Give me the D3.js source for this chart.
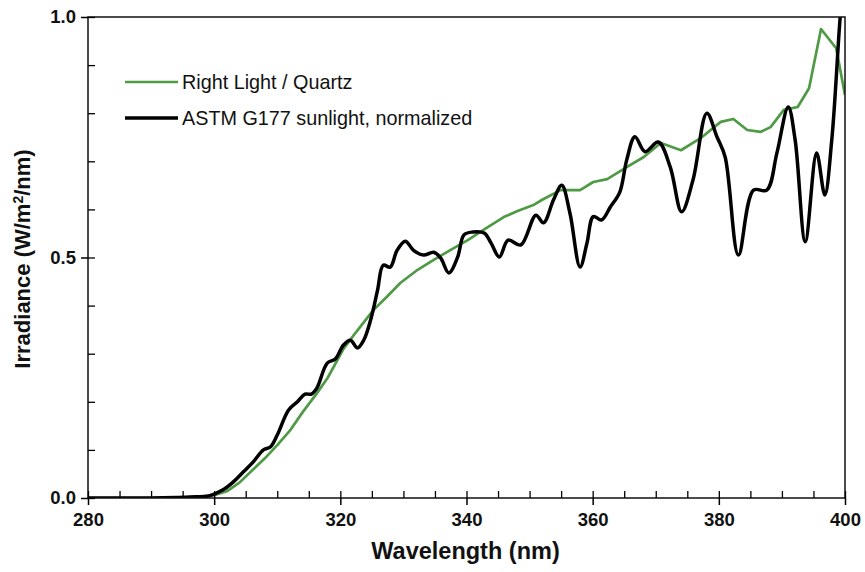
<!DOCTYPE html>
<html lang="en">
<head>
    <meta charset="UTF-8">
    <title>Irradiance</title>
    <style>
        body { margin: 0; background: #fff; }
        text { font-family: "Liberation Sans", Arial, sans-serif; }
        .tick text { font-size: 18.5px; font-weight: bold; fill: #111; }
        .label { font-size: 23.5px; font-weight: bold; fill: #111; }
        .ylabel { font-size: 22px; font-weight: bold; fill: #111; }
        .legend { font-size: 19.8px; fill: #111; }
    </style>
    <script src="https://d3js.org/d3.v7.min.js"></script>
</head>
<body>
<div id="container"></div>
<script>
    // Right Light / Quartz (green)
    var quartzWl = [280, 290, 295, 298, 300, 302, 304, 306, 308, 310, 312, 314, 316.3, 318, 320.5, 322.5, 325.2, 327.5,
        329.5, 332, 334.8, 337.5, 340.2, 343, 345.9, 348, 350.6, 352, 354.9, 358, 360.1, 362.3, 365.4, 368.1, 370.8,
        374, 377.1, 380.3, 382.3, 384.5, 386.6, 388.2, 390.3, 392.5, 394.3, 396.2, 398.6, 400];
    var quartzVal = [0, 0, 0.001, 0.003, 0.006, 0.014, 0.032, 0.057, 0.082, 0.11, 0.14, 0.178, 0.218, 0.25, 0.31, 0.345, 0.39, 0.42,
        0.447, 0.472, 0.495, 0.516, 0.536, 0.56, 0.584, 0.596, 0.609, 0.62, 0.64, 0.64, 0.657, 0.663, 0.688, 0.709, 0.738,
        0.723, 0.748, 0.782, 0.788, 0.765, 0.761, 0.771, 0.807, 0.813, 0.852, 0.975, 0.935, 0.838];

    // ASTM G177 sunlight, normalized (black)
    var astmWl = [280, 285, 290, 294, 296.2, 299.3, 301.4, 303, 304.6, 306.2, 307.8, 308.9, 310, 311.8, 313.2, 314.4, 315.4,
        316.3, 317.9, 319.2, 320.5, 321.6, 322.7, 323.7, 324.8, 325.9, 326.8, 327.9, 329, 330.3, 331.6, 333.2, 334.8,
        335.9, 337.2, 338.6, 339.6, 341, 342.8, 343.9, 345.2, 346.6, 348.6, 351, 352.2, 353.8, 355.1, 356.4, 358,
        359.1, 360.1, 361.4, 362.8, 364.3, 365.4, 366.7, 368.3, 370.4, 372.3, 374.1, 375.9, 378.1, 379.7, 381, 383.1,
        385.5, 387.6, 389.2, 391, 392.1, 393.7, 395.5, 396.8, 397.9, 399.2, 400];
    var astmVal = [0, 0, 0, 0.001, 0.002, 0.005, 0.017, 0.033, 0.054, 0.075, 0.1, 0.106, 0.131, 0.183, 0.2, 0.216, 0.216,
        0.229, 0.28, 0.289, 0.318, 0.328, 0.312, 0.328, 0.37, 0.432, 0.484, 0.48, 0.515, 0.534, 0.515, 0.505, 0.511,
        0.499, 0.468, 0.501, 0.547, 0.553, 0.551, 0.53, 0.501, 0.536, 0.526, 0.588, 0.572, 0.62, 0.65, 0.592, 0.48,
        0.53, 0.585, 0.578, 0.605, 0.636, 0.703, 0.751, 0.72, 0.74, 0.688, 0.595, 0.661, 0.8, 0.751, 0.709, 0.505,
        0.64, 0.64, 0.717, 0.813, 0.744, 0.533, 0.717, 0.63, 0.744, 0.994, 1.12];

    var xMajor = [280, 300, 320, 340, 360, 380, 400];
    var yMajor = [0, 0.5, 1.0];

    var width = 865, height = 572;
    var margin = {left: 88, right: 20, top: 17, bottom: 74};
    var green = "#4f9a45";

    var svg = d3.select("#container").append("svg")
        .attr("width", width)
        .attr("height", height);

    var x = d3.scaleLinear().domain([280, 400]).range([margin.left, width - margin.right]);
    var y = d3.scaleLinear().domain([0, 1]).range([height - margin.bottom, margin.top]);

    var quartz = quartzWl.map(function(w, i){ return {w: w, v: quartzVal[i]}; });
    var astm = astmWl.map(function(w, i){ return {w: w, v: astmVal[i]}; });

    svg.append("clipPath").attr("id", "clip")
        .append("rect")
        .attr("x", margin.left).attr("y", margin.top)
        .attr("width", width - margin.left - margin.right)
        .attr("height", height - margin.top - margin.bottom);

    var line = d3.line()
        .x(function(d){ return x(d.w); })
        .y(function(d){ return y(d.v); });

    svg.append("path")
        .datum(quartz)
        .attr("clip-path", "url(#clip)")
        .attr("d", line.curve(d3.curveLinear))
        .style("fill", "none")
        .style("stroke", green)
        .style("stroke-width", 2.7)
        .style("stroke-linejoin", "round");

    svg.append("path")
        .datum(astm)
        .attr("clip-path", "url(#clip)")
        .attr("d", line.curve(d3.curveCatmullRom.alpha(0.5)))
        .style("fill", "none")
        .style("stroke", "#000")
        .style("stroke-width", 3.5)
        .style("stroke-linejoin", "round");

    // frame
    svg.append("rect")
        .attr("x", margin.left).attr("y", margin.top)
        .attr("width", width - margin.left - margin.right)
        .attr("height", height - margin.top - margin.bottom)
        .style("fill", "none")
        .style("stroke", "#111")
        .style("stroke-width", 1.5);

    // x axis: labelled major ticks out, all ticks in
    var xBase = height - margin.bottom;
    svg.append("g")
        .attr("transform", "translate(0," + xBase + ")")
        .call(d3.axisBottom(x).tickValues(xMajor).tickSize(7).tickPadding(8).tickFormat(d3.format("d")))
        .call(function(g){ g.select(".domain").remove(); g.selectAll("line").style("stroke-width", 1.5); });
    svg.append("g")
        .attr("transform", "translate(0," + xBase + ")")
        .call(d3.axisBottom(x).tickValues(d3.range(280, 401, 5)).tickSize(-7).tickFormat(""))
        .call(function(g){ g.select(".domain").remove(); g.selectAll("line").style("stroke-width", 1.3); });

    // y axis
    svg.append("g")
        .attr("transform", "translate(" + margin.left + ",0)")
        .call(d3.axisLeft(y).tickValues(yMajor).tickSize(7).tickPadding(5).tickFormat(d3.format(".1f")))
        .call(function(g){ g.select(".domain").remove(); g.selectAll("line").style("stroke-width", 1.5); });
    svg.append("g")
        .attr("transform", "translate(" + margin.left + ",0)")
        .call(d3.axisLeft(y).tickValues(d3.range(0, 1.01, 0.1)).tickSize(-7).tickFormat(""))
        .call(function(g){ g.select(".domain").remove(); g.selectAll("line").style("stroke-width", 1.3); });

    // axis titles
    svg.append("text")
        .attr("class", "label")
        .attr("x", (margin.left + width - margin.right) / 2 - 1)
        .attr("y", 559)
        .style("text-anchor", "middle")
        .text("Wavelength (nm)");

    var yl = svg.append("text")
        .attr("class", "ylabel")
        .attr("transform", "translate(30," + 259 + ") rotate(-90)")
        .style("text-anchor", "middle");
    yl.append("tspan").text("Irradiance (W/m");
    yl.append("tspan").attr("dy", -7).style("font-size", "14px").text("2");
    yl.append("tspan").attr("dy", 7).text("/nm)");

    // legend
    var legendRows = [
        {name: "Right Light / Quartz", color: green, w: 2.7, y: 82},
        {name: "ASTM G177 sunlight, normalized", color: "#000", w: 3.5, y: 118}
    ];
    legendRows.forEach(function(r){
        svg.append("line")
            .attr("x1", 125).attr("x2", 178)
            .attr("y1", r.y).attr("y2", r.y)
            .style("stroke", r.color)
            .style("stroke-width", r.w);
        svg.append("text")
            .attr("class", "legend")
            .attr("x", 182)
            .attr("y", r.y + 7)
            .text(r.name);
    });
</script>
</body>
</html>
